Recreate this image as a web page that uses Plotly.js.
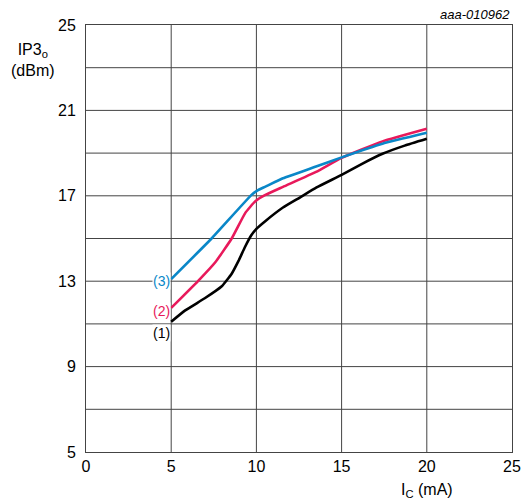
<!DOCTYPE html>
<html>
<head>
<meta charset="utf-8">
<script src="https://cdn.plot.ly/plotly-3.0.1.min.js"></script>
<style>html,body{margin:0;padding:0;background:#fff;}#chart{width:524px;height:504px;}</style>
</head>
<body>
<div id="chart"></div>
<script>
// Curve (1) – black
const x1 = [5, 5.8, 6.97, 7.95, 8.55, 8.95, 9.33, 9.7, 10, 10.5, 11.56, 12.55, 13.53, 15, 16.2, 17.4, 18.7, 20];
const y1 = [11.1, 11.62, 12.2, 12.75, 13.35, 13.95, 14.6, 15.15, 15.45, 15.8, 16.45, 16.92, 17.39, 17.98, 18.5, 18.97, 19.35, 19.67];
// Curve (2) – red
const x2 = [5, 6.6, 7.6, 8.55, 9.35, 9.94, 10.5, 11.56, 13.5, 15, 17.4, 20];
const y2 = [11.75, 13.03, 13.9, 15.0, 16.2, 16.75, 17.03, 17.42, 18.12, 18.78, 19.55, 20.14];
// Curve (3) – blue
const x3 = [5, 7.37, 9.7, 10.1, 10.5, 11.56, 13.5, 15, 17.4, 20];
const y3 = [13.1, 15.0, 17.03, 17.27, 17.42, 17.82, 18.37, 18.8, 19.44, 19.95];

const curveLabels = ["(1)", "(2)", "(3)"];
const labelX = [4.45, 4.45, 4.45];
const labelY = [10.57, 11.6, 13.0];
const colors = ["#000000", "#e8195b", "#0a87c8"];

const xTicks = [0, 5, 10, 15, 20, 25];
const yTicks = [5, 9, 13, 17, 21, 25];

const traces = [[x1, y1], [x2, y2], [x3, y3]].map((d, i) => ({
  x: d[0], y: d[1], type: "scatter", mode: "lines",
  line: {color: colors[i], width: 2.6, shape: "spline", smoothing: 0.4},
  hoverinfo: "skip", showlegend: false
}));

const gridShapes = [];
for (let v = 7; v < 25; v += 2) {
  gridShapes.push({type: "line", xref: "paper", yref: "y", x0: 0, x1: 1, y0: v, y1: v,
    line: {color: "#444", width: 1}, layer: "below"});
}
for (let v = 5; v < 25; v += 5) {
  gridShapes.push({type: "line", xref: "x", yref: "paper", x0: v, x1: v, y0: 0, y1: 1,
    line: {color: "#444", width: 1}, layer: "below"});
}

const fam = "Liberation Sans, Arial, sans-serif";
const font = {family: fam, size: 16, color: "#000"};

const annotations = curveLabels.map((t, i) => ({
  x: labelX[i], y: labelY[i], xref: "x", yref: "y", text: t, showarrow: false,
  font: {family: fam, size: 14, color: colors[i]}, xanchor: "center", yanchor: "middle",
  bgcolor: "#fff", borderpad: 0
}));
annotations.push({xref: "paper", yref: "paper", x: -0.124, y: 0.918, xanchor: "center", yanchor: "middle",
  text: "IP3<sub>o</sub><br>(dBm)", showarrow: false, font: font, align: "center"});
annotations.push({xref: "x", yref: "paper", x: 20, y: -0.089, xanchor: "center", yanchor: "middle",
  text: "I<sub>C</sub> (mA)", showarrow: false, font: font});
annotations.push({xref: "paper", yref: "paper", x: 1, y: 1.003, xanchor: "right", yanchor: "bottom",
  text: "<i>aaa-010962</i>", showarrow: false, font: {family: fam, size: 13, color: "#000"}});

const layout = {
  width: 524, height: 504,
  margin: {l: 86, r: 12, t: 25, b: 52},
  paper_bgcolor: "#fff", plot_bgcolor: "#fff",
  font: font,
  xaxis: {range: [0, 25], tickvals: xTicks, ticktext: xTicks.map(String), showgrid: false, zeroline: false,
    showline: true, mirror: true, linecolor: "#444", linewidth: 1, ticks: "", fixedrange: true},
  yaxis: {range: [5, 25], tickvals: yTicks, ticktext: yTicks.map(String), showgrid: false, zeroline: false,
    showline: true, mirror: true, linecolor: "#444", linewidth: 1, ticks: "", ticklabelstandoff: 6, fixedrange: true},
  shapes: gridShapes,
  annotations: annotations,
  showlegend: false
};

Plotly.newPlot("chart", traces, layout, {staticPlot: true, displayModeBar: false});
</script>
</body>
</html>
